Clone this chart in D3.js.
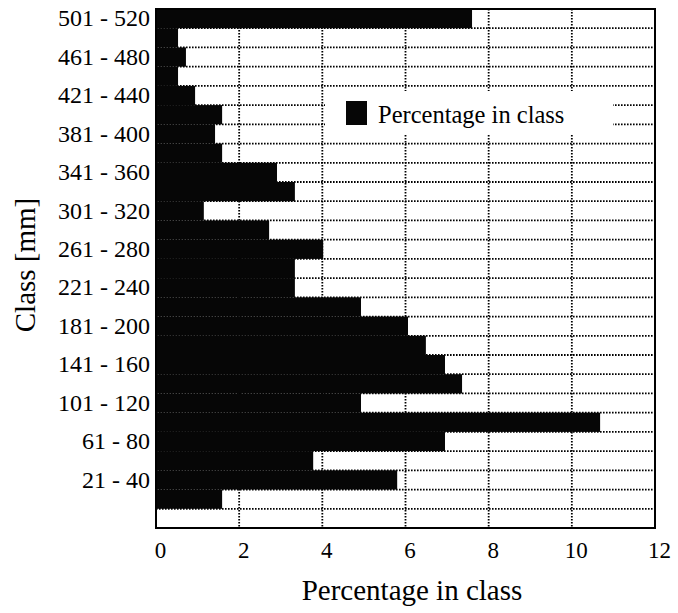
<!DOCTYPE html>
<html>
<head>
    <meta charset="utf-8">
    <title>class-histogram</title>
    <style type="text/css">
        body { margin: 0; background: #fff; }
        svg text { font-family: "Liberation Serif", "Times New Roman", serif; fill: #000; }
        .grid line { stroke: #000; stroke-width: 1.8; stroke-dasharray: 1.6, 1.4; }
    </style>
    <script src="https://cdnjs.cloudflare.com/ajax/libs/d3/7.8.5/d3.min.js"></script>
</head>
<body>
<script type="text/javascript">
    /*=========DATA=========*/
    // classes from smallest to largest
    var classes = ["1 - 20", "21 - 40", "41 - 60", "61 - 80", "81 - 100", "101 - 120", "121 - 140",
        "141 - 160", "161 - 180", "181 - 200", "201 - 220", "221 - 240", "241 - 260", "261 - 280",
        "281 - 300", "301 - 320", "321 - 340", "341 - 360", "361 - 380", "381 - 400", "401 - 420",
        "421 - 440", "441 - 460", "461 - 480", "481 - 500", "501 - 520"];
    // percentage in class
    var percent = [1.59, 5.8, 3.78, 6.95, 10.68, 4.93, 7.36, 6.95, 6.49, 6.06, 4.93, 3.34, 3.34,
        4.02, 2.72, 1.15, 3.34, 2.91, 1.59, 1.42, 1.59, 0.94, 0.53, 0.72, 0.53, 7.6];
    // labelled classes on the y axis
    var classTicks = ["21 - 40", "61 - 80", "101 - 120", "141 - 160", "181 - 200", "221 - 240",
        "261 - 280", "301 - 320", "341 - 360", "381 - 400", "421 - 440", "461 - 480", "501 - 520"];
    var xTicks = [0, 2, 4, 6, 8, 10, 12];
    var legendLabel = "Percentage in class";

    var rows = classes.map(function (c, i) { return { cls: c, value: percent[i] }; });

    /*=====SIZE SVG======*/
    var svgWidth = 678;
    var svgHeight = 613;
    var margin = { top: 9, right: 23, bottom: 85, left: 156 };
    var width = svgWidth - margin.left - margin.right;
    var height = svgHeight - margin.top - margin.bottom;

    // scales
    var xScale = d3.scaleLinear().domain([0, 12]).range([0, width]);
    // top row = largest class, one empty row left below the smallest class
    var yScale = d3.scaleBand()
        .domain(classes.slice().reverse())
        .range([0, height])
        .paddingInner(0)
        .paddingOuter(0.5)
        .align(0);

    var svg = d3.select("body").append("svg")
        .attr("width", svgWidth).attr("height", svgHeight);
    var focus = svg.append("g")
        .attr("transform", "translate(" + margin.left + "," + margin.top + ")");

    // grid
    var grid = focus.append("g").attr("class", "grid");
    grid.selectAll(".vgrid").data(xTicks.slice(1, -1)).enter().append("line")
        .attr("x1", function (d) { return xScale(d); })
        .attr("x2", function (d) { return xScale(d); })
        .attr("y1", 0).attr("y2", height);
    var step = yScale.step();
    grid.selectAll(".hgrid").data(classes.slice().reverse()).enter().append("line")
        .attr("x1", 0).attr("x2", width)
        .attr("y1", function (d) { return yScale(d) + step; })
        .attr("y2", function (d) { return yScale(d) + step; });

    // bars
    focus.append("g").selectAll("rect").data(rows).enter().append("rect")
        .attr("x", 0)
        .attr("y", function (d) { return yScale(d.cls); })
        .attr("width", function (d) { return xScale(d.value); })
        .attr("height", yScale.bandwidth())
        .attr("fill", "#060606");

    // legend
    var legend = focus.append("g").attr("transform", "translate(" + (325 - margin.left) + "," + (91 - margin.top) + ")");
    legend.append("rect").attr("width", 288).attr("height", 44).attr("fill", "#fff");
    legend.append("rect").attr("x", 21).attr("y", 10).attr("width", 21).attr("height", 24).attr("fill", "#060606");
    legend.append("text").attr("x", 53).attr("y", 32).attr("font-size", 24.5).text(legendLabel);

    // axes
    var xAxis = d3.axisBottom(xScale).tickValues(xTicks).tickSize(0).tickPadding(14);
    var gx = focus.append("g").attr("transform", "translate(0," + height + ")").call(xAxis);
    gx.select(".domain").remove();
    gx.selectAll("text").attr("font-size", 23).attr("dx", 4).style("font-family", "Liberation Serif");

    var yAxis = d3.axisLeft(yScale).tickValues(classTicks).tickSize(0).tickPadding(6);
    var gy = focus.append("g").call(yAxis);
    gy.select(".domain").remove();
    gy.selectAll("text").attr("font-size", 24).style("font-family", "Liberation Serif");

    // frame
    focus.append("rect").attr("width", width).attr("height", height)
        .attr("fill", "none").attr("stroke", "#000").attr("stroke-width", 2);

    // titles
    svg.append("text").attr("x", 412).attr("y", 600).attr("text-anchor", "middle")
        .attr("font-size", 29).text("Percentage in class");
    svg.append("text").attr("transform", "translate(35,265) rotate(-90)").attr("text-anchor", "middle")
        .attr("font-size", 29).text("Class [mm]");
</script>
</body>
</html>
